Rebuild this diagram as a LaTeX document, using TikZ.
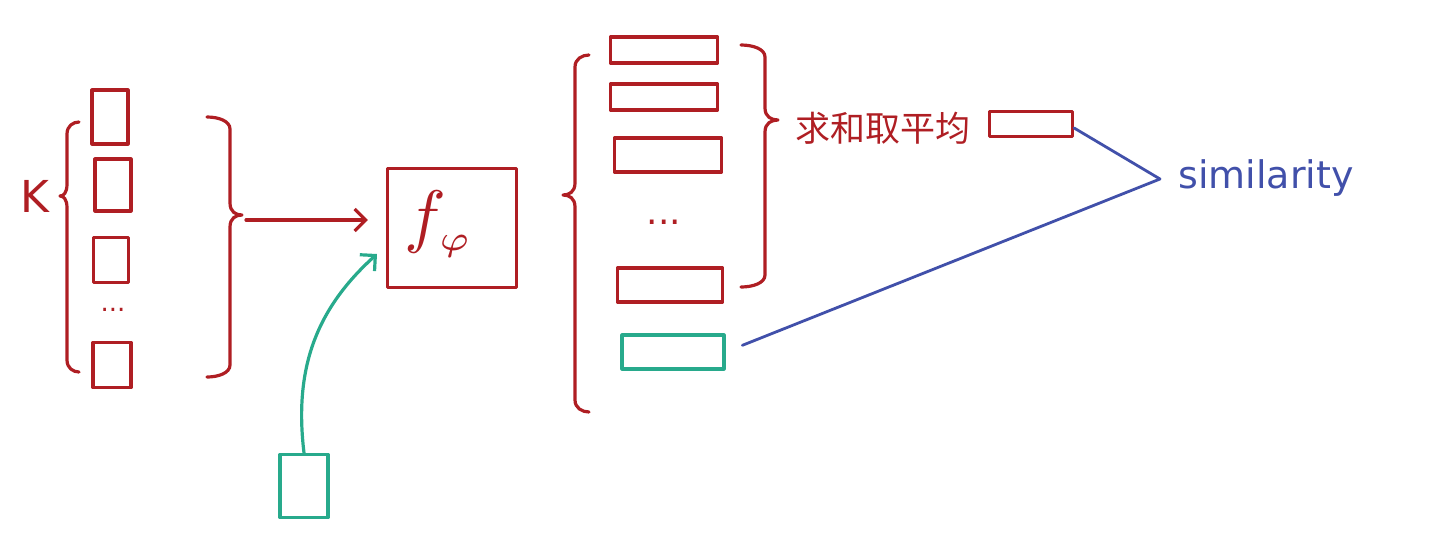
\documentclass[tikz,border=0pt]{standalone}
\usepackage{fontspec}
\newfontfamily\cjkfont{Noto Sans CJK SC}
\newfontfamily\handfont{DejaVu Sans}
\usetikzlibrary{arrows.meta}
\definecolor{inkred}{RGB}{175,30,35}
\definecolor{inkteal}{RGB}{40,170,140}
\definecolor{inkblue}{RGB}{65,80,170}
% brace path: #1 end x, #2 spine x, #3 tip x, #4 top y, #5 tip y, #6 bottom y
\newcommand\bracepath[6]{(#1,#4) .. controls ({(#1+#2)/2},#4) and (#2,{#4+4}) .. (#2,{#4+12}) -- (#2,{#5-12}) .. controls (#2,{#5-3}) and ({(#2+#3)/2},#5) .. (#3,#5) .. controls ({(#2+#3)/2},#5) and (#2,{#5+3}) .. (#2,{#5+12}) -- (#2,{#6-12}) .. controls (#2,{#6-4}) and ({(#1+#2)/2},#6) .. (#1,#6)}
\begin{document}
\begin{tikzpicture}[x=1pt,y=-1pt,
  ink/.style={line width=3.2pt,line cap=round,line join=round},
  redbox/.style={ink,draw=inkred,inner sep=0pt},
  tealbox/.style={ink,draw=inkteal,inner sep=0pt},
  dots/.style={text=inkred,font=\handfont\fontsize{26}{30}\selectfont,anchor=base,inner sep=0pt},
  barb/.style={-{Straight Barb[length=11pt,width=22pt]}}]
\useasboundingbox (0,0) rectangle (1437,547);
% left column of small squares
\node[font=\handfont\fontsize{44}{50}\selectfont,text=inkred] (k) at (35,196) {K};
\draw[ink,inkred] \bracepath{79}{67}{60}{122}{196}{372};
\node[redbox,minimum width=36pt,minimum height=54pt] (s1) at (110,117) {};
\node[redbox,minimum width=36pt,minimum height=52pt] (s2) at (113,185) {};
\node[redbox,minimum width=35pt,minimum height=45pt] (s3) at (111,260) {};
\node[dots] (d1) at (113,311) {...};
\node[redbox,minimum width=38pt,minimum height=45pt] (s4) at (112,365) {};
\draw[ink,inkred] \bracepath{207}{230}{242}{117}{215}{377};
\coordinate (b1) at (246,220);
% encoder
\node[redbox,minimum width=129pt,minimum height=119pt] (f) at (452,228) {};
\node[text=inkred,inner sep=0pt] (fl) at (439,224) {\scalebox{7}{$f_{\scriptscriptstyle\varphi}$}};
\draw[ink,inkred,barb] (b1) -- ([xshift=-18pt]f.west |- b1);
% teal query square
\node[tealbox,minimum width=48pt,minimum height=63pt] (q) at (304,486) {};
\coordinate (qend) at (377,254);
\draw[ink,inkteal,barb] (q.north) .. controls (294,370) and (315,310) .. (qend);
% outputs
\draw[ink,inkred] \bracepath{589}{575}{563}{55}{195}{412};
\node[redbox,minimum width=107pt,minimum height=26pt] (r1) at (664,50) {};
\node[redbox,minimum width=107pt,minimum height=26pt] (r2) at (664,97) {};
\node[redbox,minimum width=107pt,minimum height=34pt] (r3) at (668,155) {};
\node[dots,font=\handfont\fontsize{36}{40}\selectfont] (d2) at (664,224) {...};
\node[redbox,minimum width=105pt,minimum height=34pt] (r4) at (670,285) {};
\node[tealbox,minimum width=102pt,minimum height=34pt] (t) at (673,352) {};
\draw[ink,inkred] \bracepath{741}{765}{778}{45}{120}{287};
% average
\node[text=inkred,font=\cjkfont\fontsize{35}{40}\selectfont,inner sep=0pt] (cn) at (883,128) {求和取平均};
\node[redbox,minimum width=83pt,minimum height=25pt] (a) at (1031,124) {};
% similarity
\node[text=inkblue,font=\handfont\fontsize{38}{44}\selectfont,anchor=base west,inner sep=0pt] (sim) at (1178,188) {similarity};
\coordinate (simjoin) at (1160,179);
\draw[ink,inkblue,line width=2.8pt] ([yshift=-4pt]a.east) -- (simjoin);
\draw[ink,inkblue,line width=2.8pt,shorten <=18pt] (t.east) -- (simjoin);
\end{tikzpicture}
\end{document}
